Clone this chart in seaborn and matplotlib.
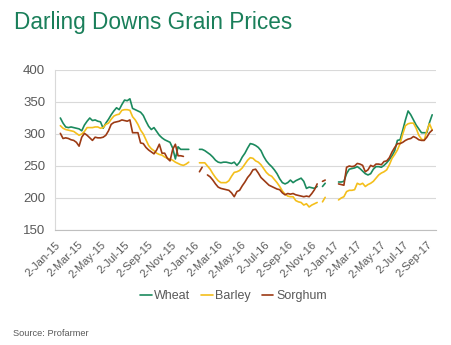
import numpy as np
import pandas as pd
import matplotlib
matplotlib.use("Agg")
import matplotlib.pyplot as plt
import seaborn as sns

# ---------------- data ----------------
series_names = ["Wheat", "Barley", "Sorghum"]
first_week = "2015-01-16"   # weekly prices (Fridays)

wheat = [325, 317, 311, 310, 311, 310, 309, 308, 305, 314,
         320, 325, 321, 322, 320, 319, 309, 317, 323, 330,
         336, 341, 338, 346, 353, 352, 355, 340, 338, 336,
         334, 329, 320, 312, 307, 310, 304, 298, 294, 291,
         289, 287, 278, 261, 280, 276, 276, 276, 276,
         None, None, None,
         276, 276, 274, 271, 268, 264, 259, 256, 255, 256,
         256, 255, 254, 256, 251, 256, 264, 270, 278, 285,
         284, 282, 279, 274, 265, 258, 253, 249, 244, 238,
         230, 224, 222, 224, 228, 224, 227, 229, 231, 226,
         215, 217, 216, 215, 218,
         None,
         218, 223,
         None, None, None, None,
         225, 225, 226, 238, 245, 246, 247, 249, 246, 242,
         238, 236, 238, 245, 249, 249, 248, 251, 255, 260,
         266, 274, 290, 291, 306, 322, 336, 330, 322, 314,
         308, 302, 302, 302, 318, 330]

barley = [313, 309, 307, 306, 305, 304, 301, 298, 300, 304,
          310, 310, 310, 311, 311, 309, 310, 315, 317, 323,
          328, 330, 331, 337, 338, 338, 337, 327, 322, 315,
          306, 300, 291, 282, 277, 274, 270, 268, 267, 264,
          262, 261, 259, 256, 254, 252, 251, 253, 256,
          None, None, None,
          255, 255, 255, 250, 245, 238, 232, 227, 224, 224,
          224, 227, 234, 240, 241, 243, 247, 253, 259, 263,
          262, 258, 256, 252, 246, 240, 236, 234, 229, 224,
          218, 211, 206, 203, 202, 202, 196, 194, 193, 189,
          191, 186, 189, 191, 193,
          None,
          194, 201,
          None, None, None, None,
          197, 200, 202, 210, 212, 212, 213, 223, 221, 223,
          218, 221, 223, 226, 231, 236, 239, 241, 244, 252,
          262, 268, 275, 285, 300, 313, 316, 317, 317, 309,
          298, 292, 290, 305, 316, 306]

sorghum = [301, 293, 294, 293, 291, 290, 287, 281, 295, 301,
           298, 294, 290, 295, 294, 294, 295, 298, 305, 315,
           318, 319, 320, 322, 321, 320, 322, 302, 302, 302,
           286, 285, 279, 275, 272, 269, 275, 284, 270, 270,
           262, 258, 276, 284, 266, 266, 265,
           None, None, None, None, None,
           241, 248,
           None,
           236, 233, 228, 222, 217, 215, 214,
           213, 212, 208, 202, 210, 212, 219, 225, 232, 237,
           244, 245, 239, 232, 228, 224, 220, 218, 216, 214,
           213, 208, 205, 207, 206, 207, 205, 204, 203, 202,
           203, 202, 207, 213, 222,
           None,
           226, 228,
           None, None, None, None,
           222, 221, 220, 248, 250, 249, 250, 254, 253, 251,
           241, 244, 251, 249, 253, 253, 252, 257, 258, 263,
           272, 279, 285, 285, 287, 290, 292, 293, 296, 294,
           291, 290, 290, 295, 302, 306]

tick_labels = ["2-Jan-15", "2-Mar-15", "2-May-15", "2-Jul-15", "2-Sep-15",
               "2-Nov-15", "2-Jan-16", "2-Mar-16", "2-May-16", "2-Jul-16",
               "2-Sep-16", "2-Nov-16", "2-Jan-17", "2-Mar-17", "2-May-17",
               "2-Jul-17", "2-Sep-17"]
y_ticks = [150, 200, 250, 300, 350, 400]

title = "Darling Downs Grain Prices"
source = "Source: Profarmer"

# ---------------- style ----------------
sns.set_style("white")
plt.rcParams["font.family"] = ["Liberation Sans", "DejaVu Sans"]

colors = {"Wheat": "#1b8a5e", "Barley": "#f4bf1c", "Sorghum": "#9c3a14"}
grey_text = "#595959"

# build long table, with a segment id so gaps stay gaps
rows = []
for name, vals in zip(series_names, [wheat, barley, sorghum]):
    dates = pd.date_range(first_week, periods=len(vals), freq="7D")
    seg = 0
    gap = True
    for d, v in zip(dates, vals):
        if v is None:
            gap = True
            continue
        if gap:
            seg += 1
            gap = False
        rows.append({"date": d, "price": v, "grain": name, "seg": f"{name}{seg}"})
df = pd.DataFrame(rows)

W, H = 451, 345
fig = plt.figure(figsize=(W / 100, H / 100), dpi=100)
ax = fig.add_axes([55 / W, 1 - 230 / H, (436 - 55) / W, 160 / H])

sns.lineplot(data=df, x="date", y="price", hue="grain", hue_order=series_names,
             units="seg", estimator=None, palette=colors, linewidth=1.2,
             ax=ax, legend=True)

tick_dates = pd.to_datetime(tick_labels, format="%d-%b-%y")
ax.set_xlim(pd.Timestamp("2015-01-02"), pd.Timestamp("2015-01-02") + pd.Timedelta(days=997))
ax.set_ylim(150, 400)
ax.set_yticks(y_ticks)
ax.set_yticklabels([str(v) for v in y_ticks], fontsize=9.5, color=grey_text)
ax.set_xticks(tick_dates)
ax.set_xticklabels(tick_labels, rotation=45, ha="right", va="top",
                   rotation_mode="anchor", fontsize=8, color=grey_text)
ax.set_xlabel("")
ax.set_ylabel("")

ax.yaxis.grid(True, color="#d9d9d9", linewidth=0.8)
ax.xaxis.grid(False)
ax.set_axisbelow(True)
for s in ["top", "right"]:
    ax.spines[s].set_visible(False)
ax.spines["left"].set_color("#d9d9d9")
ax.spines["left"].set_linewidth(0.8)
ax.spines["bottom"].set_color("#bfbfbf")
ax.spines["bottom"].set_linewidth(0.8)
ax.tick_params(axis="y", length=0, pad=7)
ax.tick_params(axis="x", length=4, width=0.8, color="#bfbfbf", pad=3, direction="out")

handles, labels = ax.get_legend_handles_labels()
ax.get_legend().remove()
fig.legend(handles, labels, loc="center", bbox_to_anchor=(0.517, 1 - 296 / H),
           ncol=3, frameon=False, fontsize=9, handlelength=0.95, handletextpad=0.2,
           columnspacing=0.85, labelcolor=grey_text)

fig.text(14 / W, 1 - 22 / H, title, fontsize=16.3, color="#1a7f5a", va="center", ha="left")
fig.text(13 / W, 1 - 333 / H, source, fontsize=6.7, color=grey_text, va="center", ha="left")

fig.savefig("out.png", dpi=100)
